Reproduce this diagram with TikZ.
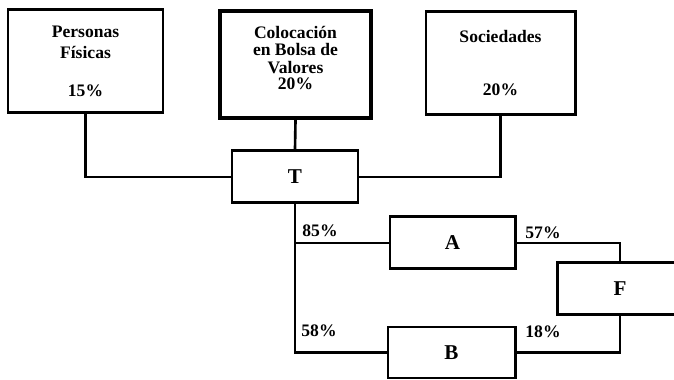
\documentclass[tikz,border=0pt]{standalone}
\usepackage{fontspec}
\setmainfont{Liberation Serif}
\usetikzlibrary{positioning,calc}

\begin{document}
\begin{tikzpicture}[font=\fontsize{10}{12}\selectfont\bfseries, line width=1.5pt,
  box/.style={draw=black, line width=1.7pt, align=center, inner sep=2pt},
  src/.style={box, minimum height=20.6mm},
  unit/.style={box, minimum width=25.2mm, minimum height=10.4mm,
               font=\fontsize{12}{14}\selectfont\bfseries},
  pct/.style={inner sep=0pt}]
\useasboundingbox (0,0) rectangle (13.48,7.6);
% sources of capital
\node[src, minimum width=31mm] (pf) at (1.71,6.37) {Personas\\Físicas\\[9.5pt]15\%};
\node[src, minimum width=30.2mm, minimum height=21.4mm, line width=2.2pt, text depth=8pt] (cbv) at (5.91,6.31) {Colocación\\[-2pt]en Bolsa de\\[-2pt]Valores\\[-3pt]20\%};
\node[src, minimum width=29.8mm] (soc) at (10.01,6.34) {Sociedades\\[18pt]20\%};
% companies
\node[unit] (t) at (5.90,4.06) {T};
\node[unit, minimum width=25mm] (a) at (9.05,2.74) {A};
\node[unit, minimum width=25.4mm, minimum height=10.2mm] (b) at (9.03,0.55) {B};
\node[unit] (f) at (12.40,1.82) {F};
\draw (pf.south) |- (t.west);
\draw (cbv.south) -- (t.north);
\draw (soc.south) |- (t.east);
\draw (t.south) |- (b.west);
\draw (t.south |- a.west) -- (a.west);
\draw (a.east) -| (f.north);
\draw (f.south) |- (b.east);
% shares
\node[pct] (p85) at (6.40,2.98) {85\%};
\node[pct] (p58) at (6.38,0.98) {58\%};
\node[pct] (p57) at (10.86,2.94) {57\%};
\node[pct] (p18) at (10.86,0.96) {18\%};
\end{tikzpicture}
\end{document}
